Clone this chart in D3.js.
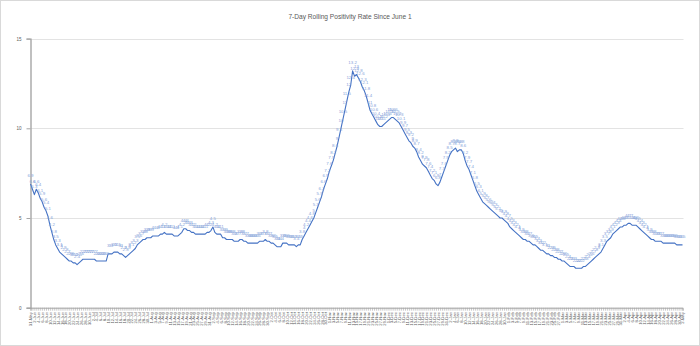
<!DOCTYPE html>
<html>
<head>
<meta charset="utf-8">
<script src="https://cdn.jsdelivr.net/npm/d3@7"></script>
<style>
  html, body { margin: 0; padding: 0; background: #fff; }
  svg { display: block; font-family: "Liberation Sans", Arial, sans-serif; }
</style>
</head>
<body>
<svg id="chart" width="700" height="346"></svg>
<script>
// Daily dates shown on the category axis
const firstDay = new Date(2020, 4, 31);
const lastDay = new Date(2021, 4, 2);
const days = d3.timeDay.range(firstDay, d3.timeDay.offset(lastDay, 1));

// 7-day rolling positivity rate (%), one value per day
const positivity = [
  6.9, 6.6, 6.3, 6.6, 6.4, 6.1, 5.9, 5.6, 5.4, 5.1,
  4.6, 4.2, 3.8, 3.5, 3.3, 3.1, 3.0, 2.9, 2.8, 2.7,
  2.6, 2.6, 2.5, 2.5, 2.4, 2.5, 2.6, 2.7, 2.7, 2.7,
  2.7, 2.7, 2.7, 2.7, 2.6, 2.6, 2.6, 2.6, 2.6, 2.6,
  3.0, 3.0, 3.0, 3.1, 3.1, 3.1, 3.0, 3.0, 2.9, 2.8,
  2.9, 3.0, 3.1, 3.2, 3.3, 3.5, 3.6, 3.7, 3.8, 3.8,
  3.9, 3.9, 3.9, 4.0, 4.0, 4.0, 4.0, 4.1, 4.1, 4.2,
  4.1, 4.1, 4.1, 4.1, 4.0, 4.0, 4.0, 4.1, 4.2, 4.4,
  4.4, 4.3, 4.3, 4.2, 4.2, 4.1, 4.1, 4.1, 4.1, 4.1,
  4.1, 4.2, 4.2, 4.3, 4.5, 4.2, 4.1, 4.1, 4.1, 3.9,
  3.9, 3.8, 3.8, 3.8, 3.8, 3.7, 3.7, 3.7, 3.8, 3.8,
  3.7, 3.7, 3.6, 3.6, 3.6, 3.6, 3.6, 3.6, 3.7, 3.7,
  3.7, 3.8, 3.7, 3.7, 3.6, 3.6, 3.5, 3.4, 3.4, 3.4,
  3.6, 3.6, 3.6, 3.5, 3.5, 3.5, 3.5, 3.4, 3.5, 3.5,
  3.8, 4.0, 4.2, 4.4, 4.6, 4.8, 5.0, 5.3, 5.6, 5.9,
  6.2, 6.6, 6.9, 7.2, 7.6, 7.9, 8.2, 8.6, 9.0, 9.5,
  10.0, 10.5, 11.0, 11.5, 12.0, 12.4, 13.2, 12.9, 13.0, 12.8,
  12.6, 12.3, 12.1, 11.8, 11.4, 11.0, 10.8, 10.6, 10.4, 10.2,
  10.1, 10.1, 10.2, 10.3, 10.4, 10.5, 10.6, 10.6, 10.5, 10.4,
  10.3, 10.1, 9.9, 9.7, 9.5, 9.3, 9.2, 9.0, 8.9, 8.7,
  8.4, 8.2, 8.0, 7.9, 7.8, 7.6, 7.4, 7.2, 7.1, 6.9,
  6.8, 7.0, 7.3, 7.6, 7.9, 8.2, 8.5, 8.7, 8.8, 8.9,
  8.7, 8.8, 8.8, 8.6, 8.2, 7.9, 7.7, 7.4, 7.1, 6.8,
  6.5, 6.3, 6.1, 5.9, 5.8, 5.7, 5.6, 5.5, 5.4, 5.3,
  5.2, 5.1, 5.0, 5.0, 4.9, 4.8, 4.7, 4.5, 4.4, 4.3,
  4.2, 4.1, 4.0, 3.9, 3.8, 3.8, 3.7, 3.7, 3.6, 3.5,
  3.5, 3.4, 3.3, 3.2, 3.2, 3.1, 3.0, 3.0, 2.9, 2.9,
  2.8, 2.8, 2.7, 2.7, 2.6, 2.6, 2.5, 2.4, 2.3, 2.3,
  2.3, 2.2, 2.2, 2.2, 2.2, 2.3, 2.3, 2.4, 2.5, 2.6,
  2.7, 2.8, 2.9, 3.0, 3.1, 3.3, 3.5, 3.7, 3.8, 3.9,
  4.1, 4.2, 4.3, 4.4, 4.5, 4.5, 4.6, 4.6, 4.7, 4.7,
  4.6, 4.6, 4.6, 4.5, 4.4, 4.3, 4.2, 4.1, 4.0, 3.9,
  3.8, 3.8, 3.7, 3.7, 3.7, 3.7, 3.6, 3.6, 3.6, 3.6,
  3.6, 3.6, 3.6, 3.5, 3.5, 3.5, 3.5
];

const yTicks = [0, 5, 10, 15];
const chartTitle = "7-Day Rolling Positivity Rate Since June 1";

const svg = d3.select("#chart");
const W = 700, H = 346;
const plot = { left: 30.5, right: 682.5, top: 38.6, bottom: 307.7 };

svg.append("rect")
  .attr("x", 0.5).attr("y", 0.5)
  .attr("width", W - 1).attr("height", H - 1)
  .attr("fill", "#fff").attr("stroke", "#d9d9d9");

svg.append("text")
  .attr("x", W / 2).attr("y", 19)
  .attr("text-anchor", "middle")
  .attr("font-size", 6.6)
  .attr("fill", "#595959")
  .text(chartTitle);

const x = d3.scalePoint()
  .domain(days.map((d, i) => i))
  .range([plot.left, plot.right]);

const y = d3.scaleLinear()
  .domain([0, 15])
  .range([plot.bottom, plot.top]);

// Horizontal gridlines
svg.append("g")
  .selectAll("line")
  .data(yTicks.filter(t => t > 0))
  .join("line")
  .attr("x1", plot.left).attr("x2", plot.right + 1)
  .attr("y1", d => Math.round(y(d)) + 0.5)
  .attr("y2", d => Math.round(y(d)) + 0.5)
  .attr("stroke", "#e3e3e3");

// Y axis
const yAxis = svg.append("g")
  .attr("transform", `translate(${plot.left},0)`)
  .call(d3.axisLeft(y).tickValues(yTicks).tickSize(4).tickPadding(5));
yAxis.select(".domain").attr("stroke", "#a6a6a6").attr("stroke-width", 1.4);
yAxis.selectAll(".tick line").attr("stroke", "#a6a6a6");
yAxis.selectAll(".tick text").attr("font-size", 4.5).attr("fill", "#595959");

// X axis: a tick per day, a label every other day
const fmt = d3.timeFormat("%-d-%b");
const xAxis = svg.append("g")
  .attr("transform", `translate(0,${plot.bottom})`)
  .call(d3.axisBottom(x)
    .tickValues(days.map((d, i) => i))
    .tickSize(3)
    .tickFormat(i => (i % 2 === 0 ? fmt(days[i]) : "")));
xAxis.select(".domain").attr("stroke", "#a6a6a6");
xAxis.selectAll(".tick line").attr("stroke", "#a6a6a6").attr("stroke-width", 0.6);
xAxis.selectAll(".tick text")
  .attr("font-size", 4.2)
  .attr("fill", "#595959")
  .attr("text-anchor", "end")
  .attr("dy", "0.35em")
  .attr("transform", "translate(0,4.5) rotate(-90)")
  .attr("x", 0).attr("y", 0);

// Positivity line
const line = d3.line()
  .x((d, i) => x(i))
  .y(d => y(d));

svg.append("path")
  .datum(positivity)
  .attr("d", line)
  .attr("fill", "none")
  .attr("stroke", "#4472c4")
  .attr("stroke-width", 1.1)
  .attr("stroke-linejoin", "round");

// Data labels above every point
const labelFmt = v => (Number.isInteger(v) ? String(v) : v.toFixed(1));
svg.append("g")
  .selectAll("text")
  .data(positivity)
  .join("text")
  .attr("x", (d, i) => x(i))
  .attr("y", d => y(d) - 6.5)
  .attr("text-anchor", "middle")
  .attr("font-size", 4.4)
  .attr("fill", "#86a3da")
  .text(d => labelFmt(d));
</script>
</body>
</html>
